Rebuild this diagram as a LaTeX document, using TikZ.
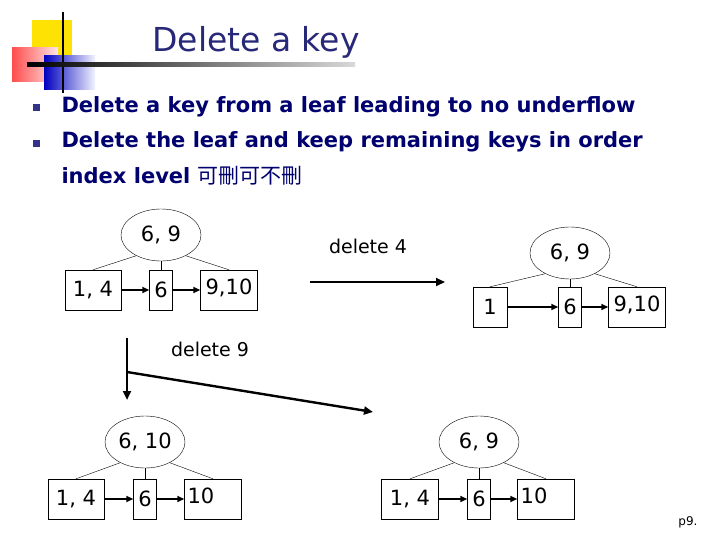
\documentclass[tikz,border=0pt]{standalone}
\usepackage{fontspec}
\setmainfont{DejaVu Sans}
\newfontfamily\cjk{Noto Sans CJK TC}
\usetikzlibrary{arrows.meta,shapes.geometric}
\definecolor{navy}{RGB}{0,0,110}
\definecolor{titleblue}{RGB}{40,40,120}
\begin{document}
\begin{tikzpicture}[x=1pt,y=-1pt,
  key/.style={draw,thin,minimum height=40pt,inner sep=0pt,font=\fontsize{21}{21}\selectfont},
  root/.style={draw,thin,ellipse,minimum width=80pt,minimum height=52pt,inner sep=0pt,font=\fontsize{21}{21}\selectfont},
  edge/.style={thin},
  link/.style={line width=1.6pt,-{Triangle[length=7pt,width=6pt]}},
  big/.style={line width=2.4pt,-{Triangle[length=9pt,width=8pt]}},
  lab/.style={font=\fontsize{19}{19}\selectfont}]
\useasboundingbox (0,0) rectangle (720,540);
% logo
\fill[yellow!85!orange] (32,20) rectangle (72,60);
\shade[left color=red!70,right color=red!10] (12,48) rectangle (58,82);
\shade[left color=blue!75!black,right color=blue!5] (44,56) rectangle (95,90);
\draw[line width=2.5pt] (63,12) -- (63,93);
\shade[left color=black,right color=gray!30] (27,63) rectangle (355,67);
\node[font=\fontsize{33}{33}\selectfont,text=titleblue] (title) at (256,42) {Delete a key};
% bullets
\fill[navy!80] (33,104) rectangle (40,111);
\fill[navy!80] (33,140) rectangle (40,147);
\begin{scope}[every node/.style={anchor=west,text=navy,font=\fontsize{21}{21}\bfseries\selectfont}]
\node (b1) at (58,107) {Delete a key from a leaf leading to no underflow};
\node (b2) at (58,142) {Delete the leaf and keep remaining keys in order};
\node (b3) at (58,176) {index level {\cjk\mdseries 可刪可不刪}};
\end{scope}
% tree 1
\node[root] (r1) at (161,235) {6, 9};
\node[key,minimum width=56pt] (a1) at (93,290) {1, 4};
\node[key,minimum width=23pt] (a2) at (161,290) {6};
\node[key,minimum width=57pt] (a3) at (229,290) {\raisebox{6pt}{9,10}};
\draw[edge] (r1.220) -- (a1.north); \draw[edge] (r1.south) -- (a2.north); \draw[edge] (r1.320) -- (a3.north);
\draw[link] (a1) -- (a2); \draw[link] (a2) -- (a3);
% delete 4
\node[lab] (d4) at (368,246) {delete 4};
\coordinate (s4) at (310,282); \coordinate (e4) at (445,282);
\draw[big] (s4) -- (e4);
% tree 2
\node[root] (r2) at (570,253) {6, 9};
\node[key,minimum width=34pt] (c1) at (490,307) {1};
\node[key,minimum width=23pt] (c2) at (570,307) {6};
\node[key,minimum width=57pt] (c3) at (637,307) {\raisebox{6pt}{9,10}};
\draw[edge] (r2.220) -- (c1.north); \draw[edge] (r2.south) -- (c2.north); \draw[edge] (r2.320) -- (c3.north);
\draw[link] (c1) -- (c2); \draw[link] (c2) -- (c3);
% delete 9
\node[lab] (d9) at (210,349) {delete 9};
\coordinate (v0) at (127,338); \coordinate (v1) at (127,400);
\coordinate (m) at (127,372); \coordinate (e9) at (373,412);
\draw[big] (v0) -- (v1);
\draw[big] (m) -- (e9);
% tree 3
\node[root] (r3) at (145,442) {6, 10};
\node[key,minimum width=56pt] (f1) at (76,499) {1, 4};
\node[key,minimum width=23pt] (f2) at (145,499) {6};
\node[key,minimum width=57pt] (f3) at (213,499) {\hspace*{-24pt}\raisebox{6pt}{10}};
\draw[edge] (r3.220) -- (f1.north); \draw[edge] (r3.south) -- (f2.north); \draw[edge] (r3.320) -- (f3.north);
\draw[link] (f1) -- (f2); \draw[link] (f2) -- (f3);
% tree 4
\node[root] (r4) at (479,442) {6, 9};
\node[key,minimum width=57pt] (g1) at (410,499) {1, 4};
\node[key,minimum width=23pt] (g2) at (479,499) {6};
\node[key,minimum width=57pt] (g3) at (546,499) {\hspace*{-24pt}\raisebox{6pt}{10}};
\draw[edge] (r4.220) -- (g1.north); \draw[edge] (r4.south) -- (g2.north); \draw[edge] (r4.320) -- (g3.north);
\draw[link] (g1) -- (g2); \draw[link] (g2) -- (g3);
\node[font=\fontsize{12}{12}\selectfont] (pg) at (688,522) {p9.};
\end{tikzpicture}
\end{document}
